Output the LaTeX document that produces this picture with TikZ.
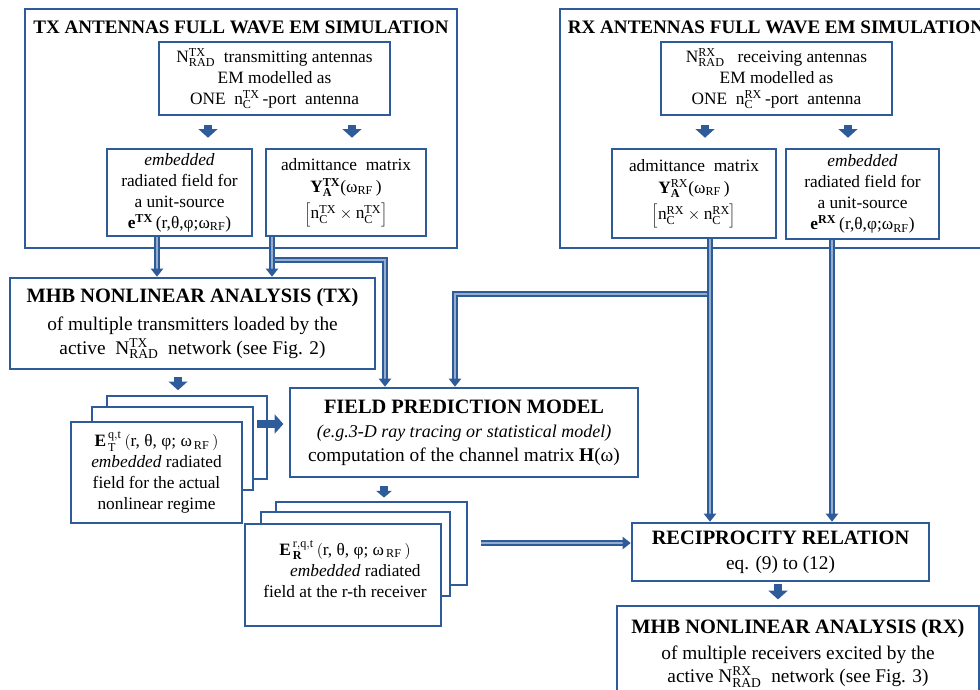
\documentclass[tikz,border=0pt]{standalone}
\usepackage{fontspec}
\setmainfont{Liberation Serif}
\usetikzlibrary{arrows.meta,calc}
\definecolor{bb}{RGB}{46,92,155}
\newcommand\fttitle{\bfseries\fontsize{14.3}{17}\selectfont}
\newcommand\fthead{\bfseries\fontsize{15.3}{18}\selectfont}
\newcommand\ftsmall{\fontsize{13}{15.75}\selectfont}
\newcommand\ftbig{\fontsize{14.5}{17.5}\selectfont}
\newcommand\ftital{\itshape\fontsize{13.5}{17.5}\selectfont}
\newcommand\ssc[3]{#1$^{\mathrm{#2}}_{\mathrm{#3}}$}
\newcommand\boxnode[7]{%
  \node[#2, minimum width={(#5-#3)*0.75pt}, minimum height={(#6-#4)*0.75pt}] (#1) at ({(#3+#5)/2},{(#4+#6)/2}) {#7};}
\begin{document}
\begin{tikzpicture}[x=0.75pt,y=-0.75pt,
  outer/.style={draw=bb, line width=2.2pt, fill=white, inner sep=0pt},
  inbox/.style={draw=bb, line width=1.9pt, fill=white, inner sep=0pt, align=center, font=\ftsmall},
  bigbox/.style={inbox, font=\ftbig},
  stackbox/.style={draw=bb, line width=1.7pt, fill=white, inner sep=0pt, align=center, font=\ftsmall},
  titletext/.style={font=\fttitle, inner sep=0pt},
  plaintext/.style={font=\ftsmall, inner sep=0pt, align=center},
  fat/.style={draw=bb, line width=6.5pt, -{Triangle[length=6.5pt,width=14pt]}},
  fatsmall/.style={draw=bb, line width=5.5pt, -{Triangle[length=5pt,width=11.5pt]}},
  pipe/.style={draw=bb, line width=1.5pt, double=bb!50!white, double distance=1.3pt, -{Triangle[length=6pt,width=9pt]}}]
\useasboundingbox (0,0) rectangle (980,689);
\clip (0,0) rectangle (980,689);

% ---------- TX antennas block ----------
\boxnode{txouter}{outer}{25}{9}{457}{248}{}
\node[titletext] (txtitle) at (241,27) {TX ANTENNAS FULL WAVE EM SIMULATION};
\boxnode{txtop}{inbox}{159}{42}{390}{115}{\ssc{N}{TX}{RAD}\ \ transmitting antennas\\ EM modelled as\\ ONE\ \ \ssc{n}{TX}{C}\,-port\ \ antenna}
\boxnode{txemb}{inbox}{107}{149}{252}{236}{\textit{embedded}\\ radiated field for\\ a unit-source\\ \textbf{e}$^{\mathbf{TX}}$\,(r,θ,φ;ω$_{\mathrm{RF}}$)}
\boxnode{txadm}{inbox}{266}{149}{426}{236}{admittance\ \ matrix\\[1pt] \textbf{Y}$^{\mathbf{TX}}_{\mathbf{A}}$(ω$_{\mathrm{RF}}$\,)\\[4pt] $\left[\mathrm{n}^{\mathrm{TX}}_{\mathrm{C}}\times\mathrm{n}^{\mathrm{TX}}_{\mathrm{C}}\right]$}

% ---------- RX antennas block ----------
\boxnode{rxouter}{outer}{560}{9}{992}{248}{}
\node[titletext] (rxtitle) at (776,27) {RX ANTENNAS FULL WAVE EM SIMULATION};
\boxnode{rxtop}{inbox}{661}{42}{892}{115}{\ssc{N}{RX}{RAD}\ \ \ receiving antennas\\ EM modelled as\\ ONE\ \ \ssc{n}{RX}{C}\,-port\ \ antenna}
\boxnode{rxadm}{inbox}{612}{149}{776}{238}{admittance\ \ matrix\\[1pt] \textbf{Y}$^{\mathrm{RX}}_{\mathbf{A}}$(ω$_{\mathrm{RF}}$\,)\\[4pt] $\left[\mathrm{n}^{\mathrm{RX}}_{\mathrm{C}}\times\mathrm{n}^{\mathrm{RX}}_{\mathrm{C}}\right]$}
\boxnode{rxemb}{inbox}{786}{149}{939}{239}{\textit{embedded}\\ radiated field for\\ a unit-source\\ \textbf{e}$^{\mathbf{RX}}$\,(r,θ,φ;ω$_{\mathrm{RF}}$)}

% ---------- MHB TX ----------
\boxnode{mhbtx}{bigbox}{10}{278}{375}{369}{{\fthead MHB NONLINEAR ANALYSIS (TX)}\\[4pt] of multiple transmitters loaded by the\\ active\ \ \ssc{N}{TX}{RAD}\ \ network (see Fig. 2)}

% ---------- TX stack ----------
\boxnode{txback}{stackbox}{107}{396}{267}{479}{}
\boxnode{txmid}{stackbox}{92}{407}{253}{490}{}
\boxnode{txfront}{stackbox}{71}{422}{242}{523}{\textbf{E}$^{\,\mathrm{q,t}}_{\,\mathrm{T}}$\,$\bigl($r, θ, φ; ω$_{\,\mathrm{RF}}$\,$\bigr)$\\ \textit{embedded} radiated\\ field for the actual\\ nonlinear regime}

% ---------- Field prediction ----------
\boxnode{field}{bigbox}{290}{388}{638}{477}{{\fthead FIELD PREDICTION MODEL}\\[1pt] {\ftital (e.g.3-D ray tracing or statistical model)}\\ computation of the channel matrix \textbf{H}(ω)}

% ---------- RX stack ----------
\boxnode{rxback}{stackbox}{276}{502}{467}{585}{}
\boxnode{rxmid}{stackbox}{261}{512}{450}{596}{}
\boxnode{rxfront}{stackbox}{245}{524}{441}{626}{}
\node[plaintext] (rxtext) at (345,569) {\textbf{E}$^{\,\mathrm{r,q,t}}_{\,\mathbf{R}}$\,$\bigl($r, θ, φ; ω$_{\,\mathrm{RF}}$\,$\bigr)$\\ \hspace*{1.2em}\textit{embedded} radiated\\ field at the r-th receiver};

% ---------- Reciprocity ----------
\boxnode{recip}{bigbox}{632}{523}{929}{581}{{\fthead RECIPROCITY RELATION}\\[1pt] eq. (9) to (12)}

% ---------- MHB RX ----------
\boxnode{mhbrx}{bigbox}{617}{606}{979}{700}{{\fthead MHB NONLINEAR ANALYSIS (RX)}\\[2pt] of multiple receivers excited by the\\ active N$^{\mathrm{RX}}_{\mathrm{RAD}}$\ \ network (see Fig. 3)}

% ---------- helper coordinates ----------
\coordinate (a1) at (208,0);
\coordinate (a2) at (352,0);
\coordinate (a3) at (705,0);
\coordinate (a4) at (848,0);
\coordinate (a5) at (178,0);
\coordinate (a6) at (384,0);
\coordinate (a7) at (778,0);
\coordinate (a8) at (0,424);
\coordinate (c1) at (157,0);
\coordinate (jt) at (272,260);
\coordinate (jtr) at (385,260);
\coordinate (jr) at (710,294);
\coordinate (jrl) at (455,294);
\coordinate (c6) at (832,0);
\coordinate (c7) at (0,543);

% ---------- fat block arrows ----------
\draw[fat, shorten <=6.5pt, shorten >=7.5pt] (txtop.south -| a1) -- (txemb.north -| a1);
\draw[fat, shorten <=6.5pt, shorten >=7.5pt] (txtop.south -| a2) -- (txadm.north -| a2);
\draw[fat, shorten <=6.5pt, shorten >=7.5pt] (rxtop.south -| a3) -- (rxadm.north -| a3);
\draw[fat, shorten <=6.5pt, shorten >=7.5pt] (rxtop.south -| a4) -- (rxemb.north -| a4);
\draw[fat, shorten <=5pt, shorten >=3.5pt] (mhbtx.south -| a5) -- (txback.north -| a5);
\draw[fatsmall, shorten <=6pt, shorten >=2.5pt] (field.south -| a6) -- (rxback.north -| a6);
\draw[fat, shorten <=1pt, shorten >=4pt] (recip.south -| a7) -- (mhbrx.north -| a7);
\draw[fat, shorten <=2.5pt, shorten >=4pt] (txmid.east |- a8) -- (field.west |- a8);

% ---------- pipes ----------
\draw[pipe] (jt) -- (jtr) -- (field.north -| jtr);
\draw[pipe] (txemb.south -| c1) -- (mhbtx.north -| c1);
\draw[pipe] (txadm.south -| jt) -- (mhbtx.north -| jt);
\draw[pipe] (jr) -- (jrl) -- (field.north -| jrl);
\draw[pipe] (rxadm.south -| jr) -- (recip.north -| jr);
\draw[pipe] (rxemb.south -| c6) -- (recip.north -| c6);
\draw[pipe, shorten <=9.75pt] (rxback.east |- c7) -- (recip.west |- c7);
\end{tikzpicture}
\end{document}
